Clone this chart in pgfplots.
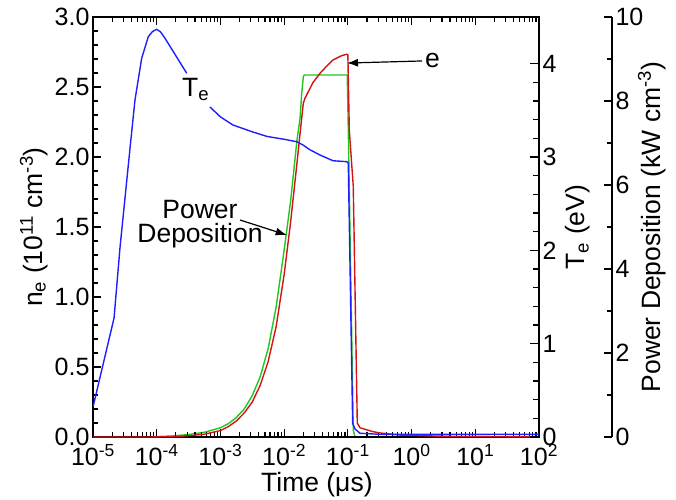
\documentclass[border=0pt]{standalone}
\usepackage{fontspec}
\setmainfont{Liberation Sans}
\usepackage{pgfplots}
\pgfplotsset{compat=1.18}
\usetikzlibrary{arrows.meta}

\definecolor{cblue}{RGB}{30,30,255}
\definecolor{cred}{RGB}{210,20,20}
\definecolor{cgreen}{RGB}{30,200,30}

\begin{document}
\begin{tikzpicture}

% power deposition axis (its y line sits further right)
\begin{axis}[
  scale only axis, width=519pt, height=420pt,
  xmode=log, xmin=1e-5, xmax=1398.8,
  axis x line=none, axis y line*=right,
  tick align=inside,
  major tick length=8pt, minor tick length=5pt,
  every tick/.append style={black, line width=1.2pt},
  axis line style={line width=1.8pt},
  tick label style={font=\fontsize{25}{28}\selectfont},
  /pgf/number format/assume math mode=true,
  ymin=0, ymax=10,
  ytick={0,2,...,10}, minor y tick num=1,
  ylabel={Power Deposition (kW cm\textsuperscript{-3})},
  every axis y label/.style={at={(axis description cs:1.0925,0.5)}, rotate=90, anchor=base, font=\fontsize{26.5}{30}\selectfont},
]
\addplot[cgreen, line width=1.4pt] coordinates {
  (1e-5,0) (3.16e-5,0.002) (1e-4,0.01) (1.78e-4,0.025) (3.16e-4,0.058) (5.62e-4,0.113)
  (1e-3,0.22) (1.33e-3,0.317) (1.78e-3,0.465) (2.37e-3,0.67) (3.16e-3,0.985)
  (4.22e-3,1.44) (5.62e-3,2.11) (7.5e-3,3.1) (1e-2,4.45) (1.26e-2,5.6)
  (1.585e-2,7.05) (1.78e-2,7.6) (1.886e-2,8.18) (2.0e-2,8.58) (2.07e-2,8.62)
  (9.78e-2,8.62) (0.1016,7.31) (0.1216,0.167) (0.1294,0) (100,0)
};
\end{axis}

% main axis: electron density
\begin{axis}[
  scale only axis, width=446pt, height=420pt,
  xmode=log, xmin=1e-5, xmax=1e2,
  tick align=inside,
  major tick length=8pt, minor tick length=5pt,
  every tick/.append style={black, line width=1.2pt},
  axis line style={line width=1.8pt},
  tick label style={font=\fontsize{25}{28}\selectfont},
  /pgf/number format/assume math mode=true,
  ymin=0, ymax=3,
  ytick={0,0.5,...,3.0}, minor y tick num=4,
  ytick pos=left,
  yticklabel style={/pgf/number format/.cd, fixed, fixed zerofill, precision=1},
  xticklabel style={yshift=-4pt},
  xtick={1e-5,1e-4,1e-3,1e-2,1e-1,1,10,100},
  xticklabels={10\textsuperscript{-5},10\textsuperscript{-4},10\textsuperscript{-3},10\textsuperscript{-2},10\textsuperscript{-1},10\textsuperscript{0},10\textsuperscript{1},10\textsuperscript{2}},
  minor xtick={2e-5,3e-5,4e-5,5e-5,6e-5,7e-5,8e-5,9e-5,
    2e-4,3e-4,4e-4,5e-4,6e-4,7e-4,8e-4,9e-4,
    2e-3,3e-3,4e-3,5e-3,6e-3,7e-3,8e-3,9e-3,
    2e-2,3e-2,4e-2,5e-2,6e-2,7e-2,8e-2,9e-2,
    0.2,0.3,0.4,0.5,0.6,0.7,0.8,0.9,
    2,3,4,5,6,7,8,9,
    20,30,40,50,60,70,80,90},
  xlabel={Time (μs)},
  every axis x label/.style={at={(axis description cs:0.502,0)}, yshift=-54pt, anchor=base, font=\fontsize{26.5}{30}\selectfont},
  ylabel={n\textsubscript{e} (10\textsuperscript{11} cm\textsuperscript{-3})},
  every axis y label/.style={at={(axis description cs:-0.1143,0.5)}, rotate=90, anchor=base, font=\fontsize{26.5}{30}\selectfont},
]
\addplot[cred, line width=1.4pt] coordinates {
  (1e-5,0) (7.85e-5,0) (1e-4,0.001) (1.78e-4,0.003) (3.16e-4,0.009) (5.62e-4,0.02)
  (1e-3,0.046) (1.33e-3,0.074) (1.78e-3,0.115) (2.37e-3,0.172) (3.16e-3,0.25)
  (4.22e-3,0.37) (5.62e-3,0.54) (7.5e-3,0.79) (1e-2,1.16) (1.26e-2,1.53)
  (1.585e-2,1.95) (1.78e-2,2.17) (2.0e-2,2.384) (2.12e-2,2.419)
  (2.82e-2,2.53) (3.66e-2,2.598) (4.68e-2,2.65) (5.85e-2,2.693) (8.0e-2,2.724)
  (9.59e-2,2.734) (0.1,2.729)
  (0.1054,2.19) (0.1216,1.79) (0.1406,0.10) (0.1552,0.066) (0.248,0.038)
  (0.320,0.029) (0.66,0.014) (4.0,0.004) (100,0)
};

\begin{scope}[font=\fontsize{26.5}{30}\selectfont]
\node[anchor=base west, inner sep=0pt] at (axis cs:2.49e-4,2.429) {T\textsubscript{e}};
\node[anchor=base west, inner sep=0pt] at (axis cs:1.625,2.636) {e};
\draw[line width=1.2pt, -{Latex[length=11pt,width=8pt]}] (axis cs:1.458,2.686) -- (axis cs:0.0969,2.671);
\node[anchor=base, inner sep=0pt] at (axis cs:4.78e-4,1.564) {Power};
\node[anchor=base, inner sep=0pt] at (axis cs:4.78e-4,1.386) {Deposition};
\draw[line width=1.2pt, -{Latex[length=11pt,width=8pt]}] (axis cs:2.03e-3,1.55) -- (axis cs:0.01096,1.443);
\end{scope}
\end{axis}

% electron temperature axis
\begin{axis}[
  scale only axis, width=446pt, height=420pt,
  xmode=log, xmin=1e-5, xmax=1e2,
  axis x line=none, axis y line*=right,
  tick align=inside,
  major tick length=9pt, minor tick length=6pt,
  every tick/.append style={black, line width=1.2pt},
  axis line style={line width=1.8pt},
  tick label style={font=\fontsize{25}{28}\selectfont},
  /pgf/number format/assume math mode=true,
  ymin=0, ymax=4.5,
  ytick={0,1,2,3,4}, minor y tick num=4,
  ylabel={T\textsubscript{e} (eV)},
  every axis y label/.style={at={(axis description cs:1.1031,0.5)}, rotate=90, anchor=base, font=\fontsize{26.5}{30}\selectfont},
]
\addplot[cblue, line width=1.4pt] coordinates {
  (1e-5,0.321) (2.14e-5,1.275) (2.65e-5,2.025) (3.81e-5,3.093) (4.56e-5,3.611)
  (5.81e-5,4.058) (7.38e-5,4.289) (8.6e-5,4.345) (1.0e-4,4.368) (1.15e-4,4.34)
  (1.35e-4,4.272) (2.96e-4,3.897)
};
\addplot[cblue, line width=1.4pt] coordinates {
  (6.85e-4,3.536) (1.0e-3,3.43) (1.57e-3,3.343) (3.16e-3,3.27) (5.4e-3,3.22)
  (1.0e-2,3.19) (1.57e-2,3.164) (1.98e-2,3.129) (2.5e-2,3.08)
  (3.66e-2,3.021) (5.85e-2,2.960) (9.59e-2,2.950) (0.1016,2.933) (0.119,0.150)
  (0.1294,0.086) (0.1552,0.040) (0.32,0.029) (100,0.029)
};
\end{axis}

\pgfresetboundingbox
\path[use as bounding box] (-93pt,-62pt) rectangle (583pt,437pt);
\end{tikzpicture}
\end{document}
